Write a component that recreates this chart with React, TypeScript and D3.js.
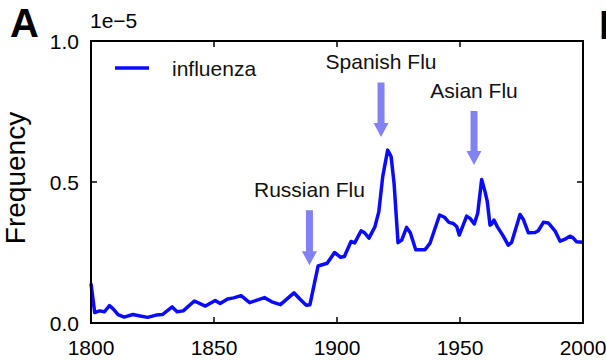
import { line, scaleLinear } from "d3";

// frequency of "influenza", in units of 1e-5
const years = [
  1800, 1801.5, 1803.5, 1805.5, 1807.5, 1809, 1811, 1813.5, 1817, 1820, 1823, 1826.5, 1829, 1833, 1835,
  1837.5, 1842, 1846.5, 1850.5, 1852.5, 1855.5, 1858, 1861, 1864.5, 1867.5, 1870.5, 1873.5, 1877, 1882.5,
  1885, 1887.5, 1889, 1892.3, 1896, 1899, 1901.5, 1903, 1905.7, 1907.2, 1909.8, 1911.2, 1913, 1915.4, 1917,
  1918.6, 1920.6, 1922, 1923.2, 1924.8, 1926.3, 1928.3, 1929.8, 1932, 1935.8, 1937.8, 1941.7, 1943.7, 1945.5,
  1947.3, 1948.7, 1949.7, 1952.7, 1954.1, 1955.8, 1957.2, 1958.8, 1960.2, 1961.1, 1962.2, 1962.9, 1963.8,
  1965.2, 1967.6, 1969.6, 1971, 1974.4, 1975.7, 1977.8, 1980.5, 1981.8, 1983.9, 1985.9, 1988.6, 1990.7,
  1992.7, 1994.7, 1996, 1997.4, 2000
];
const influenza = [
  0.14, 0.037, 0.043, 0.04, 0.062, 0.05, 0.03, 0.021, 0.03, 0.025, 0.02, 0.028, 0.03, 0.057, 0.04,
  0.043, 0.078, 0.06, 0.08, 0.069, 0.085, 0.089, 0.097, 0.072, 0.081, 0.09, 0.075, 0.065, 0.107,
  0.084, 0.063, 0.065, 0.202, 0.212, 0.25, 0.233, 0.236, 0.289, 0.284, 0.327, 0.32, 0.301, 0.341, 0.395,
  0.52, 0.613, 0.59, 0.495, 0.285, 0.294, 0.339, 0.32, 0.26, 0.26, 0.283, 0.383, 0.375, 0.357,
  0.353, 0.341, 0.312, 0.379, 0.371, 0.351, 0.389, 0.509, 0.465, 0.43, 0.347, 0.351, 0.365,
  0.341, 0.308, 0.276, 0.286, 0.385, 0.368, 0.32, 0.321, 0.327, 0.357, 0.355, 0.327, 0.29,
  0.297, 0.308, 0.302, 0.288, 0.286
];

const xTicks = [1800, 1850, 1900, 1950, 2000];
const yTicks = [0, 0.5, 1.0];

// flu pandemics: arrow x (year), tip and tail heights (1e-5)
const epidemics = ["Russian Flu", "Spanish Flu", "Asian Flu"];
const epidemicYears = [1888.8, 1917.9, 1955.7];
const arrowTips = [0.205, 0.66, 0.56];
const arrowTails = [0.4, 0.853, 0.752];

const font = "'Liberation Sans', Arial, Helvetica, sans-serif";

export default function App() {
  const width = 606;
  const height = 361;
  const margin = { top: 41, right: 23, bottom: 38, left: 91 };
  const innerWidth = width - margin.left - margin.right;
  const innerHeight = height - margin.top - margin.bottom;

  const x = scaleLinear().domain([1800, 2000]).range([0, innerWidth]);
  const y = scaleLinear().domain([0, 1]).range([innerHeight, 0]);

  const path = line<number>()
    .x((_, i) => x(years[i]))
    .y((d) => y(d))(influenza) ?? "";

  const tick = 6;
  const headW = 7.5;
  const headL = 14;
  const shaftW = 3.5;

  return (
    <svg width={width} height={height} style={{ position: "absolute", left: 0, top: 0, background: "#fff" }} fontFamily={font}>
      <text x={10} y={37} fontSize={40} fontWeight="bold" fill="#000">A</text>
      <text x={599} y={39} fontSize={40} fontWeight="bold" fill="#000">B</text>

      <text transform="translate(25, 178) rotate(-90)" textAnchor="middle" fontSize={28} fill="#000">
        Frequency
      </text>

      <g transform={`translate(${margin.left}, ${margin.top})`}>
        <text x={-1} y={-13} fontSize={21} fill="#000">1e−5</text>

        {yTicks.map((t) => (
          <g key={t}>
            <line x1={0} x2={tick} y1={y(t)} y2={y(t)} stroke="#000" strokeWidth={1.5} />
            <line x1={innerWidth} x2={innerWidth - tick} y1={y(t)} y2={y(t)} stroke="#000" strokeWidth={1.5} />
            <text x={-12} y={y(t)} dy="0.36em" textAnchor="end" fontSize={21} fill="#000">
              {t.toFixed(1)}
            </text>
          </g>
        ))}

        {xTicks.map((t) => (
          <g key={t}>
            <line x1={x(t)} x2={x(t)} y1={innerHeight} y2={innerHeight - tick} stroke="#000" strokeWidth={1.5} />
            <line x1={x(t)} x2={x(t)} y1={0} y2={tick} stroke="#000" strokeWidth={1.5} />
            <text x={x(t)} y={innerHeight + 32} textAnchor="middle" fontSize={21} fill="#000">
              {t}
            </text>
          </g>
        ))}

        {epidemics.map((name, i) => {
          const cx = x(epidemicYears[i]);
          const tipY = y(arrowTips[i]);
          const tailY = y(arrowTails[i]);
          const baseY = tipY - headL;
          const d = `M ${cx - shaftW} ${tailY} L ${cx + shaftW} ${tailY} L ${cx + shaftW} ${baseY} L ${cx + headW} ${baseY} L ${cx} ${tipY} L ${cx - headW} ${baseY} L ${cx - shaftW} ${baseY} Z`;
          return (
            <g key={name}>
              <path d={d} fill="#8282f4" />
              <text x={cx} y={tailY - 13} textAnchor="middle" fontSize={21} fill="#111">
                {name}
              </text>
            </g>
          );
        })}

        <path d={path} fill="none" stroke="#0a0aff" strokeWidth={3.5} strokeLinejoin="round" />

        <line x1={24} x2={58} y1={27} y2={27} stroke="#0a0aff" strokeWidth={3.5} />
        <text x={81} y={35} fontSize={21} fill="#111">influenza</text>

        <rect x={0} y={0} width={innerWidth} height={innerHeight} fill="none" stroke="#000" strokeWidth={2} />
      </g>
    </svg>
  );
}
